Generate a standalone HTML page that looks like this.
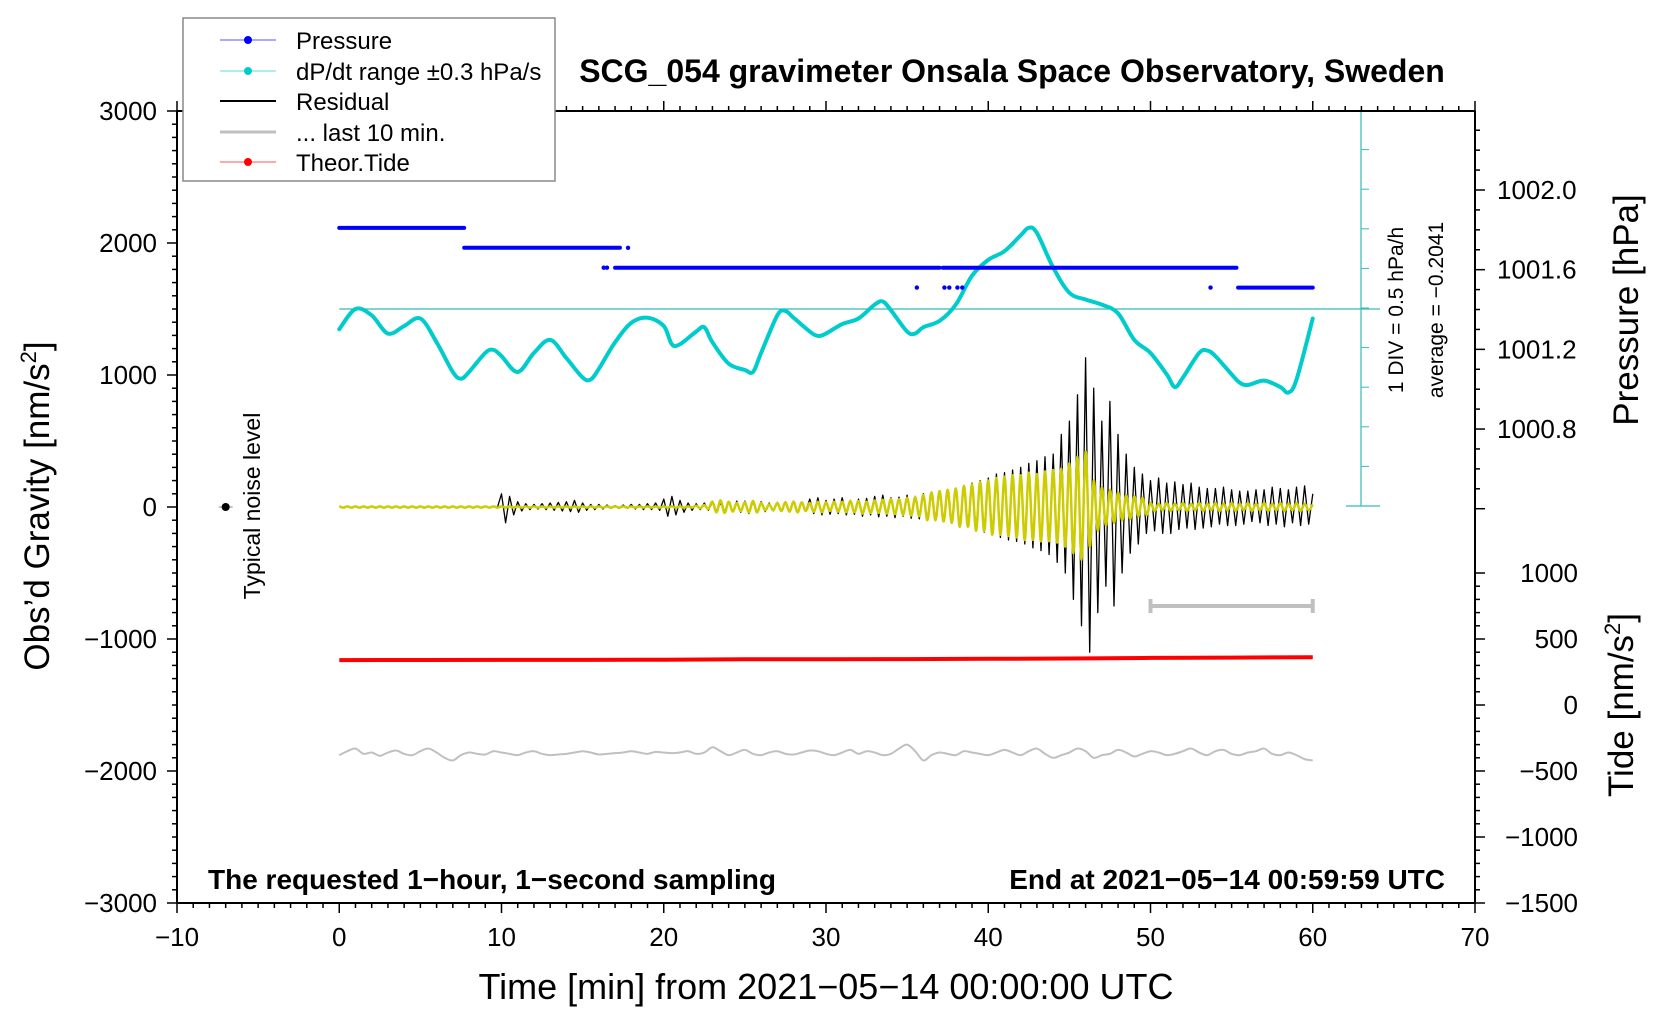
<!DOCTYPE html>
<html><head><meta charset="utf-8">
<style>
html,body{margin:0;padding:0;background:#fff;}
svg{display:block;font-family:"Liberation Sans",sans-serif;}
</style></head>
<body>
<svg id="chart" width="1676" height="1020" viewBox="0 0 1676 1020" xmlns="http://www.w3.org/2000/svg">
<rect width="1676" height="1020" fill="#fff"/>
<g id="ticks"></g>
<g id="series"></g>
<g id="frame">
  <line x1="177" y1="111" x2="177" y2="903" stroke="#000" stroke-width="2"/>
  <line x1="177" y1="903" x2="1475" y2="903" stroke="#000" stroke-width="2"/>
  <line x1="177" y1="111" x2="1475" y2="111" stroke="#000" stroke-width="2"/>
  <line x1="1475" y1="111" x2="1475" y2="903" stroke="#000" stroke-width="2"/>
</g>
<text x="1012" y="82" text-anchor="middle" font-size="32" font-weight="bold">SCG_054 gravimeter Onsala Space Observatory, Sweden</text>
<text transform="translate(49,506) rotate(-90)" text-anchor="middle" font-size="35">Obs’d Gravity [nm/s<tspan font-size="22" dy="-13">2</tspan><tspan dy="13">]</tspan></text>
<text x="826" y="999" text-anchor="middle" font-size="36">Time [min] from 2021−05−14 00:00:00 UTC</text>
<text transform="translate(1638,310) rotate(-90)" text-anchor="middle" font-size="35">Pressure [hPa]</text>
<text transform="translate(1633,705) rotate(-90)" text-anchor="middle" font-size="35">Tide [nm/s<tspan font-size="22" dy="-13">2</tspan><tspan dy="13">]</tspan></text>
<text transform="translate(260,506) rotate(-90)" text-anchor="middle" font-size="23">Typical noise level</text>
<text x="208" y="889" font-size="28" font-weight="bold">The requested 1−hour, 1−second sampling</text>
<text x="1445" y="889" text-anchor="end" font-size="28" font-weight="bold">End at 2021−05−14 00:59:59 UTC</text>
<text transform="translate(1403,310) rotate(-90)" text-anchor="middle" font-size="21">1 DIV = 0.5 hPa/h</text>
<text transform="translate(1443,310) rotate(-90)" text-anchor="middle" font-size="21">average = −0.2041</text>
<g>
  <rect x="183" y="18" width="372" height="163" fill="#fff" stroke="#888" stroke-width="1.5"/>
  <g><line x1="220" y1="40" x2="276" y2="40" stroke="#5555ff" stroke-width="1"/><circle cx="248" cy="40" r="4" fill="#0000ff"/><text x="296" y="49" font-size="24">Pressure</text></g>
  <g><line x1="220" y1="71" x2="276" y2="71" stroke="#55dddd" stroke-width="1"/><circle cx="248" cy="71" r="4" fill="#00cccc"/><text x="296" y="80" font-size="24">dP/dt range ±0.3 hPa/s</text></g>
  <g><line x1="220" y1="101" x2="276" y2="101" stroke="#000" stroke-width="2"/><text x="296" y="110" font-size="24">Residual</text></g>
  <g><line x1="220" y1="132" x2="276" y2="132" stroke="#c0c0c0" stroke-width="3"/><text x="296" y="141" font-size="24">... last 10 min.</text></g>
  <g><line x1="220" y1="162" x2="276" y2="162" stroke="#ff5555" stroke-width="1"/><circle cx="248" cy="162" r="4" fill="#ff0000"/><text x="296" y="171" font-size="24">Theor.Tide</text></g>
</g>
</svg>
<script>
// ---- data ----
const xTicks = [-10,0,10,20,30,40,50,60,70];
const gTicks = [3000,2000,1000,0,-1000,-2000,-3000];
const pTicks = [1002.0,1001.6,1001.2,1000.8];
const tideTicks = [1000,500,0,-500,-1000,-1500];
const pSegStart = [0,7.7,17,37.2,55.4];
const pSegEnd = [7.7,17.3,37,55.3,60];
const pSegValue = [1001.81,1001.71,1001.61,1001.61,1001.51];
const pDotT = [17.8,16.3,16.5,35.6,37.3,37.6,38.1,38.4,53.7];
const pDotV = [1001.71,1001.61,1001.61,1001.51,1001.51,1001.51,1001.51,1001.51,1001.51];
const dpT = [0,1,2,3,4,5,6,7,7.5,8,9,9.5,10,11,12,13,14,15,15.5,16,17,18,19,20,20.5,21,22,22.5,23,24,25,25.5,26,27,27.5,28,29,29.5,30,31,32,33,33.5,34,35,35.5,36,37,38,39,40,41,42,42.5,43,44,45,46,47,48,49,50,51,51.5,52,53,53.5,54,55,55.5,56,57,58,58.5,59,60];
const dpDiv = [-0.51,0,-0.16,-0.62,-0.43,-0.24,-0.84,-1.59,-1.76,-1.59,-1.11,-1.03,-1.19,-1.59,-1.11,-0.78,-1.24,-1.73,-1.78,-1.51,-0.84,-0.35,-0.22,-0.43,-0.89,-0.89,-0.57,-0.46,-0.84,-1.38,-1.54,-1.59,-1.11,-0.16,-0.05,-0.22,-0.57,-0.68,-0.62,-0.38,-0.24,0.11,0.19,-0.03,-0.57,-0.62,-0.46,-0.3,0.11,0.84,1.24,1.46,1.86,2.05,1.92,1.05,0.41,0.24,0.11,-0.11,-0.78,-1.11,-1.65,-1.97,-1.73,-1.11,-1.05,-1.19,-1.65,-1.86,-1.92,-1.81,-1.97,-2.11,-1.78,-0.24];
const residStep = 0.25;
const residual = [
4,-4,3,-3, 4,-4,3,-3, 4,-4,3,-3, 4,-4,3,-3, 4,-4,3,-3, 4,-4,3,-3, 4,-4,3,-3, 4,-4,3,-3, 4,-4,3,-3, 4,-4,3,-3,
100,-120,80,-60, 40,-30,25,-20, 20,-15,25,-20, 30,-25,35,-30, 40,-35,50,-40, 30,-25,20,-20, 20,-15,15,-10, 10,-10,15,-10, 20,-15,20,-20, 25,-20,30,-25,
60,-70,80,-60, 50,-40,30,-25, 25,-20,30,-25, 35,-30,30,-35, 40,-35,45,-40, 45,-50,40,-45, 40,-35,30,-30, 35,-30,40,-35, 45,-40,35,-30, 60,-50,70,-60,
50,-55,60,-50, 70,-60,50,-55, 60,-70,65,-60, 80,-75,90,-70, 70,-80,75,-70, 90,-85,80,-90, 100,-90,110,-100, 120,-110,130,-120, 140,-150,160,-140, 180,-170,200,-190,
220,-200,250,-230, 260,-250,280,-260, 300,-280,330,-310, 350,-330,380,-360, 400,-420,550,-500, 650,-700,850,-900, 1130,-1100,900,-800, 650,-600,800,-750, 550,-500,400,-350, 300,-280,250,-200,
200,-180,220,-200, 180,-200,190,-170, 170,-160,180,-170, 150,-160,140,-150, 140,-130,150,-140, 130,-140,120,-130, 120,-110,130,-120, 130,-140,150,-130, 140,-150,130,-120, 150,-140,160,-130,
100];
const filtered = [
5,-5,5,-5, 5,-5,5,-5, 5,-5,5,-5, 5,-5,5,-5, 5,-5,5,-5, 5,-5,5,-5, 5,-5,5,-5, 5,-5,5,-5, 5,-5,5,-5, 5,-5,5,-5,
5,-5,5,-5, 5,-5,5,-5, 5,-5,5,-5, 5,-5,5,-5, 5,-5,5,-5, 5,-5,5,-5, 5,-5,5,-5, 5,-5,5,-5, 5,-5,5,-5, 5,-5,5,-5,
5,-5,5,-5, 5,-5,5,-5, 10,-10,15,-15, 40,-40,50,-45, 40,-35,30,-30, 35,-40,45,-40, 30,-25,20,-25, 30,-30,35,-35, 40,-40,35,-30, 30,-35,40,-40,
35,-30,40,-35, 40,-40,45,-40, 45,-50,40,-45, 50,-45,55,-50, 60,-55,60,-60, 70,-65,75,-70, 90,-100,110,-100, 120,-110,130,-120, 140,-150,160,-150, 170,-180,190,-180,
200,-210,220,-210, 230,-220,240,-230, 240,-250,260,-250, 250,-260,270,-260, 280,-270,290,-300, 330,-350,380,-400, 420,-300,200,-180, 150,-140,130,-120, 110,-100,90,-90, 80,-70,70,-60,
30,-30,25,-25, 30,-30,25,-25, 30,-30,25,-25, 30,-30,25,-25, 30,-30,25,-25, 30,-30,25,-25, 30,-30,25,-25, 30,-30,25,-25, 30,-30,25,-25, 30,-30,25,-25,
20];
const last10Step = 0.5;
const last10 = [-1880,-1850,-1830,-1870,-1860,-1885,-1860,-1845,-1870,-1880,-1850,-1830,-1860,-1900,-1920,-1880,-1860,-1870,-1875,-1850,-1860,-1870,-1880,-1860,-1850,-1870,-1880,-1875,-1870,-1860,
-1850,-1860,-1875,-1870,-1865,-1860,-1850,-1860,-1870,-1855,-1860,-1865,-1860,-1850,-1870,-1860,-1820,-1850,-1880,-1860,-1840,-1870,-1880,-1860,-1850,-1870,-1875,-1860,-1845,-1850,
-1870,-1880,-1860,-1840,-1870,-1850,-1860,-1880,-1870,-1830,-1800,-1850,-1920,-1880,-1860,-1870,-1880,-1850,-1860,-1870,-1880,-1860,-1840,-1860,-1880,-1850,-1830,-1870,-1900,-1880,
-1860,-1830,-1850,-1900,-1880,-1870,-1840,-1860,-1890,-1870,-1850,-1860,-1880,-1870,-1850,-1830,-1860,-1880,-1850,-1840,-1870,-1880,-1860,-1850,-1830,-1870,-1880,-1860,-1880,-1910,-1920];
const tideT = [0,5,10,15,20,25,30,35,40,45,50,55,60];
const tideV = [340,341,342,342,343,346,347,348,350,352,357,359,362];
const last10Bar = [50,60,-750];
const noiseT = [-7];
const noiseV = [0];
const pressureAvgDiv = 0;

// ---- scales ----
const X0=177,X1=1475,Y0=111,Y1=903;
const xs = t => X0 + (t+10)/80*(X1-X0);
const ys = g => Y0 + (3000-g)/6000*(Y1-Y0);
const yp = p => 190 + (1002.0-p)*199.2;
const yt = v => 903 - (v+1500)/2500*330;
const dpY0 = 309, dpDivPx = 39.6;
const ydp = d => dpY0 - d*dpDivPx;

const NS="http://www.w3.org/2000/svg";
function mk(tag, attrs, parent){const e=document.createElementNS(NS,tag);for(const k in attrs)e.setAttribute(k,attrs[k]);parent.appendChild(e);return e;}
const T=document.getElementById('ticks'), S=document.getElementById('series');

for(let m=-10;m<=70;m++){
  const x=xs(m), major=(m%10===0);
  const t=mk('line',{x1:x,y1:903,x2:x,y2:903+(major?10:5),stroke:'#000','stroke-width':1.5},T);
  
  
  const u=mk('line',{x1:x,y1:111,x2:x,y2:111-(major?10:5),stroke:'#000','stroke-width':1.5},T);
  
  
}
xTicks.forEach(v=>{
  const e=mk('text',{x:xs(v),y:946,'text-anchor':'middle','font-size':26},T);
  e.textContent=String(v).replace('-','−');
  
  
});
for(let g=-3000;g<=3000;g+=100){
  const y=ys(g), major=(g%1000===0);
  const t=mk('line',{x1:177,y1:y,x2:177-(major?10:5),y2:y,stroke:'#000','stroke-width':1.5},T);
  
  
}
gTicks.forEach(v=>{
  const e=mk('text',{x:157,y:ys(v)+9,'text-anchor':'end','font-size':26},T);
  e.textContent=String(v).replace('-','−');
  
  
});
for(let i=0;i<=20;i++){
  const p=1002.3-i*0.1, y=yp(p);
  if(y<111||y>520) continue;
  const major=(Math.round(p*10)%4===0);
  const t=mk('line',{x1:1475,y1:y,x2:1475+(major?10:5),y2:y,stroke:'#000','stroke-width':1.5},T);
  
  
}
pTicks.forEach(v=>{
  const e=mk('text',{x:1497,y:yp(v)+9,'font-size':26},T);
  e.textContent=v.toFixed(1);
  
  
});
for(let v=-1500;v<=1000;v+=100){
  const y=yt(v), major=(v%500===0);
  const t=mk('line',{x1:1475,y1:y,x2:1475+(major?10:5),y2:y,stroke:'#000','stroke-width':1.5},T);
  
  
}
tideTicks.forEach(v=>{
  const e=mk('text',{x:1578,y:yt(v)+9,'text-anchor':'end','font-size':26},T);
  e.textContent=String(v).replace('-','−');
  
  
});

const sc=mk('g',{},S);


mk('line',{x1:1361,y1:111,x2:1361,y2:506,stroke:'#33bbbb','stroke-width':1.2},sc);
mk('line',{x1:1346,y1:506,x2:1380,y2:506,stroke:'#33bbbb','stroke-width':1.2},sc);
for(let k=1;k<=10;k++){const y=506-k*dpDivPx;if(y<111)break;mk('line',{x1:1361,y1:y,x2:1369,y2:y,stroke:'#33bbbb','stroke-width':1},sc);}
const avg=mk('line',{x1:xs(0),y1:ydp(pressureAvgDiv),x2:1380,y2:ydp(pressureAvgDiv),stroke:'#33bbbb','stroke-width':1.2},S);



function smoothPath(px,py){
  let d='M'+px[0]+','+py[0];
  for(let i=0;i<px.length-1;i++){
    const x0=px[Math.max(0,i-1)],y0=py[Math.max(0,i-1)],x1=px[i],y1=py[i],x2=px[i+1],y2=py[i+1],x3=px[Math.min(px.length-1,i+2)],y3=py[Math.min(px.length-1,i+2)];
    d+=' C'+(x1+(x2-x0)/6)+','+(y1+(y2-y0)/6)+' '+(x2-(x3-x1)/6)+','+(y2-(y3-y1)/6)+' '+x2+','+y2;
  }
  return d;
}
function linePath(px,py){return px.map((x,i)=>(i?'L':'M')+x.toFixed(1)+','+py[i].toFixed(1)).join(' ');}

const l10x=last10.map((v,i)=>xs(i*last10Step)), l10y=last10.map(v=>ys(v));
const l10=mk('path',{d:smoothPath(l10x,l10y),fill:'none',stroke:'#c0c0c0','stroke-width':2},S);



const rx=residual.map((v,i)=>xs(i*residStep)), ry=residual.map(v=>ys(v));
const rp=mk('path',{d:linePath(rx,ry),fill:'none',stroke:'#000','stroke-width':1.3,'stroke-linejoin':'round'},S);


const fx=filtered.map((v,i)=>xs(i*residStep)), fy=filtered.map(v=>ys(v));
const fp=mk('path',{d:smoothPath(fx,fy),fill:'none',stroke:'#cccc00','stroke-width':2.5},S);



const dp=mk('path',{d:smoothPath(dpT.map(xs),dpDiv.map(ydp)),fill:'none',stroke:'#00cccc','stroke-width':4,'stroke-linecap':'round'},S);



pSegStart.forEach((s,i)=>{
  const l=mk('line',{x1:xs(s),y1:yp(pSegValue[i]),x2:xs(pSegEnd[i]),y2:yp(pSegValue[i]),stroke:'#0000ff','stroke-width':4,'stroke-linecap':'round'},S);
  
  
});
pDotT.forEach((t,i)=>{
  const c=mk('circle',{cx:xs(t),cy:yp(pDotV[i]),r:2.2,fill:'#0000ff'},S);
  
  
});

const td=mk('path',{d:linePath(tideT.map(xs),tideV.map(yt)),fill:'none',stroke:'#ff0000','stroke-width':4},S);



const bg=mk('g',{},S);


const by=ys(last10Bar[2]);
mk('line',{x1:xs(last10Bar[0]),y1:by,x2:xs(last10Bar[1]),y2:by,stroke:'#c0c0c0','stroke-width':4},bg);
mk('line',{x1:xs(last10Bar[0]),y1:by-7,x2:xs(last10Bar[0]),y2:by+7,stroke:'#c0c0c0','stroke-width':4},bg);
mk('line',{x1:xs(last10Bar[1]),y1:by-7,x2:xs(last10Bar[1]),y2:by+7,stroke:'#c0c0c0','stroke-width':4},bg);

noiseT.forEach((t,i)=>{
  const g=mk('g',{},S);
  
  
  mk('line',{x1:xs(t)-7,y1:ys(noiseV[i]),x2:xs(t)+7,y2:ys(noiseV[i]),stroke:'#888','stroke-width':1},g);
  mk('circle',{cx:xs(t),cy:ys(noiseV[i]),r:4,fill:'#000'},g);
});
</script>
</body></html>
